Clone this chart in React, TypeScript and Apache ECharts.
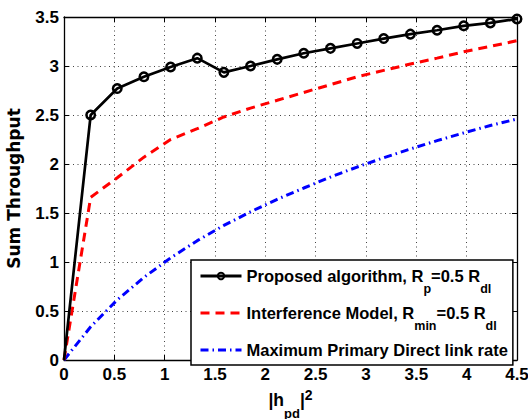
import React, { useEffect, useRef } from 'react';
import * as echarts from 'echarts';

const xValues = [0, 0.265, 0.529, 0.794, 1.059, 1.324, 1.588, 1.853, 2.118, 2.382, 2.647, 2.912, 3.176, 3.441, 3.706, 3.971, 4.235, 4.5];
const proposed = [0, 2.5, 2.77, 2.89, 2.99, 3.08, 2.935, 3.0, 3.068, 3.13, 3.18, 3.23, 3.28, 3.325, 3.365, 3.41, 3.44, 3.48];
const interference = [0, 1.66, 1.86, 2.07, 2.25, 2.36, 2.48, 2.57, 2.65, 2.73, 2.81, 2.89, 2.955, 3.02, 3.08, 3.145, 3.2, 3.258];
const maxDirect = [0, 0.339, 0.614, 0.843, 1.042, 1.218, 1.373, 1.512, 1.64, 1.755, 1.867, 1.969, 2.064, 2.153, 2.238, 2.317, 2.393, 2.459];

const seriesNames = ['proposed', 'interference', 'maxDirect'];
const legendTexts: Record<string, string> = {
  proposed: 'Proposed algorithm, R{sub|p}=0.5 R{sub|dl}',
  interference: 'Interference Model, R{sub|min}=0.5 R{sub|dl}',
  maxDirect: 'Maximum Primary Direct link rate',
};
const xName = '|h{sub|pd}|{sup|2}';
const yName = 'Sum Throughput';

const FONT = '"Liberation Sans", Arial, Helvetica, sans-serif';

export default function App() {
  const ref = useRef<HTMLDivElement>(null);
  useEffect(() => {
    document.body.style.margin = '0';
    const chart = echarts.init(ref.current!, null, { renderer: 'svg' });
    const axisCommon = {
      type: 'value' as const,
      axisLine: { show: true, onZero: false, lineStyle: { color: '#000', width: 1.3 } },
      axisTick: { show: true, inside: true, length: 5, lineStyle: { color: '#000', width: 1 } },
    };
    const labelStyle = { fontFamily: FONT, fontWeight: 'bold' as const, fontSize: 17, color: '#000' };
    chart.setOption({
      animation: false,
      backgroundColor: '#fff',
      grid: { left: 64, right: 11, top: 17, bottom: 59, containLabel: false, outerBoundsMode: 'none' },
      xAxis: [
        {
          ...axisCommon,
          position: 'bottom',
          min: 0, max: 4.5, interval: 0.5,
          axisLabel: { ...labelStyle, margin: 6 },
          splitLine: { show: true, lineStyle: { color: '#444', width: 1, type: [1, 3.5] } },
          name: xName,
          nameLocation: 'middle',
          nameGap: 29,
          nameTextStyle: {
            fontFamily: FONT, fontWeight: 'bold', fontSize: 17.5, color: '#000', lineHeight: 22,
            rich: {
              sub: { fontFamily: FONT, fontWeight: 'bold', fontSize: 13, color: '#000', verticalAlign: 'middle', padding: [13, 0, -13, 0] },
              sup: { fontFamily: FONT, fontWeight: 'bold', fontSize: 14, color: '#000', verticalAlign: 'middle', padding: [-5, 0, 5, 0] },
            },
          },
        },
        {
          ...axisCommon,
          position: 'top',
          min: 0, max: 4.5, interval: 0.5,
          axisLabel: { show: false },
          splitLine: { show: false },
        },
      ],
      yAxis: [
        {
          ...axisCommon,
          position: 'left',
          min: 0, max: 3.5, interval: 0.5,
          axisLabel: { ...labelStyle, margin: 5 },
          splitLine: { show: true, lineStyle: { color: '#444', width: 1, type: [1, 3.5] } },
          name: yName,
          nameLocation: 'middle',
          nameGap: 34,
          nameTextStyle: { fontFamily: '"DejaVu Sans", sans-serif', fontWeight: 'bold', fontSize: 17, color: '#000', lineHeight: 20 },
        },
        {
          ...axisCommon,
          position: 'right',
          min: 0, max: 3.5, interval: 0.5,
          axisLabel: { show: false },
          splitLine: { show: false },
        },
      ],
      legend: {
        orient: 'vertical',
        left: 191,
        top: 260,
        itemWidth: 41,
        itemHeight: 8,
        itemGap: 8,
        padding: [6, 5, 5, 8],
        borderColor: '#000',
        borderWidth: 1.5,
        backgroundColor: '#fff',
        data: [
          { name: 'proposed', itemStyle: { color: 'transparent', borderColor: '#000', borderWidth: 2 }, lineStyle: { width: 3 } },
          { name: 'interference', itemStyle: { opacity: 0 }, lineStyle: { width: 3 } },
          { name: 'maxDirect', itemStyle: { opacity: 0 }, lineStyle: { width: 3 } },
        ],
        formatter: (name: string) => legendTexts[name],
        textStyle: {
          fontFamily: FONT, fontWeight: 'bold', fontSize: 16.5, color: '#000', lineHeight: 20,
          rich: {
            sub: { fontFamily: FONT, fontWeight: 'bold', fontSize: 12.5, color: '#000', verticalAlign: 'middle', padding: [12.5, 0, -12.5, 0] },
          },
        },
      },
      series: [
        {
          name: seriesNames[0],
          type: 'line',
          xAxisIndex: 0, yAxisIndex: 0,
          data: xValues.map((x, i) => (i === 0 ? { value: [x, proposed[i]], symbol: 'none' } : [x, proposed[i]])),
          symbol: 'circle',
          symbolSize: 8.5,
          showAllSymbol: true,
          lineStyle: { color: '#000', width: 2.7 },
          itemStyle: { color: 'transparent', borderColor: '#000', borderWidth: 2.5 },
          z: 5,
        },
        {
          name: seriesNames[1],
          type: 'line',
          xAxisIndex: 0, yAxisIndex: 0,
          data: xValues.map((x, i) => [x, interference[i]]),
          symbol: 'none',
          lineStyle: { color: '#ff0000', width: 3, type: [9, 6] },
          itemStyle: { color: '#ff0000' },
          z: 4,
        },
        {
          name: seriesNames[2],
          type: 'line',
          xAxisIndex: 0, yAxisIndex: 0,
          data: xValues.map((x, i) => [x, maxDirect[i]]),
          symbol: 'none',
          lineStyle: { color: '#0000ff', width: 3, type: [8, 4, 1.5, 4] },
          itemStyle: { color: '#0000ff' },
          z: 3,
        },
      ],
    });
    return () => chart.dispose();
  }, []);
  return <div ref={ref} style={{ width: 528, height: 419 }} />;
}
